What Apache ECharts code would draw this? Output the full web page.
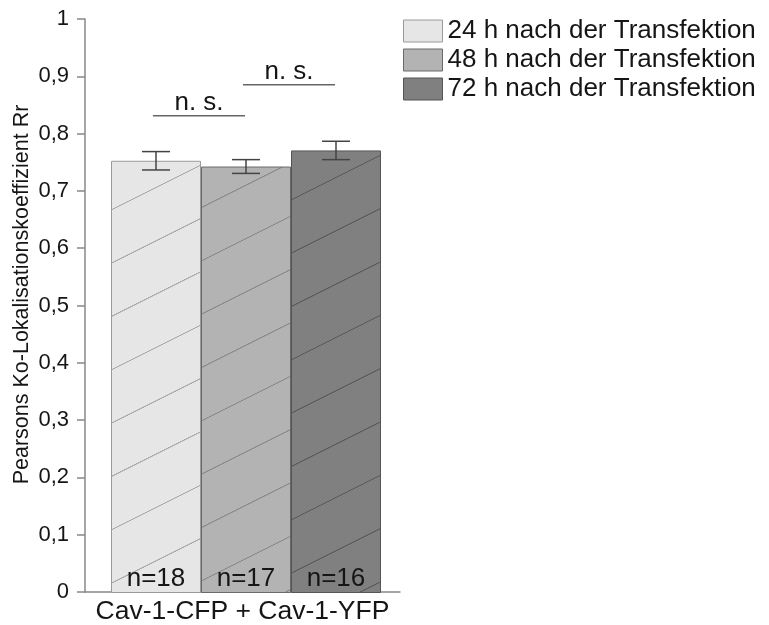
<!DOCTYPE html>
<html>
<head>
<meta charset="utf-8">
<script src="https://cdn.jsdelivr.net/npm/echarts@6/dist/echarts.min.js"></script>
<style>html,body{margin:0;padding:0;background:#fff}#c{width:769px;height:625px}</style>
</head>
<body>
<div id="c"></div>
<script>
// ---- data ----
const CATEGORIES = ['Cav-1-CFP + Cav-1-YFP'];
const SERIES_NAMES = ['24 h nach der Transfektion', '48 h nach der Transfektion', '72 h nach der Transfektion'];
const MEANS = [0.753, 0.743, 0.771];
const ERRORS = [0.016, 0.012, 0.016];
const N_VALUES = [18, 17, 16];
const SIG_PAIRS = [[0, 1], [1, 2]];
const SIG_LEVELS = [0.8316, 0.8856];
const SIG_LABELS = ['n. s.', 'n. s.'];
const Y_TICKS = [0, 0.1, 0.2, 0.3, 0.4, 0.5, 0.6, 0.7, 0.8, 0.9, 1];

// ---- styles ----
const FONT = 'Liberation Sans, Arial, sans-serif';
const TXT = '#151515';
const FILLS = ['#e6e6e6', '#b3b3b3', '#808080'];
const BORDERS = ['#9a9a9a', '#6a6a6a', '#555555'];
const HATCH = ['#a9a9a9', '#8a8a8a', '#5c5c5c'];
const HATCH_YOFF = [2, -0.3, 45.3];
const BAR_W = 90;

function hatch(bg, line, yOff) {
  const s = 3;
  const c = document.createElement('canvas');
  c.width = 90 * s; c.height = 160;
  const g = c.getContext('2d');
  g.fillStyle = bg; g.fillRect(0, 0, c.width, c.height);
  g.strokeStyle = line; g.lineWidth = 1.1 * s;
  g.beginPath(); g.moveTo(0, 48 * s); g.lineTo(90 * s, 3 * s); g.stroke();
  return { image: c, repeat: 'repeat', x: 21, y: yOff, scaleX: 1 / s, scaleY: 1 / s };
}

const chart = echarts.init(document.getElementById('c'), null, { renderer: 'canvas' });

const barSeries = SERIES_NAMES.map((name, i) => ({
  name, type: 'bar', xAxisIndex: 1, yAxisIndex: 1,
  barWidth: BAR_W, barGap: '0%',
  data: [MEANS[i]],
  itemStyle: { color: hatch(FILLS[i], HATCH[i], HATCH_YOFF[i]), borderColor: BORDERS[i], borderWidth: 1 },
  label: { show: true, position: 'insideBottom', distance: 1, formatter: 'n=' + N_VALUES[i],
           fontFamily: FONT, fontSize: 26, color: TXT },
  emphasis: { disabled: true }
}));

const errSeries = {
  type: 'custom', xAxisIndex: 1, yAxisIndex: 1, z: 5, silent: true,
  data: MEANS.map((m, i) => [0, m, ERRORS[i], i]),
  renderItem(params, api) {
    const c = api.coord([api.value(0), api.value(1)]);
    const x = c[0] + (api.value(3) - 1) * BAR_W;
    const yt = api.coord([0, api.value(1) + api.value(2)])[1];
    const yb = api.coord([0, api.value(1) - api.value(2)])[1];
    const st = { stroke: '#444', lineWidth: 1.5 };
    return { type: 'group', children: [
      { type: 'line', shape: { x1: x, y1: yt, x2: x, y2: yb }, style: st },
      { type: 'line', shape: { x1: x - 14, y1: yt, x2: x + 14, y2: yt }, style: st },
      { type: 'line', shape: { x1: x - 14, y1: yb, x2: x + 14, y2: yb }, style: st }
    ]};
  }
};

const sigSeries = {
  type: 'custom', xAxisIndex: 1, yAxisIndex: 1, z: 5, silent: true,
  data: SIG_PAIRS.map((p, i) => [0, SIG_LEVELS[i], p[0], p[1], i]),
  renderItem(params, api) {
    const c = api.coord([api.value(0), api.value(1)]);
    const x1 = c[0] + (api.value(2) - 1) * BAR_W - 3;
    const x2 = c[0] + (api.value(3) - 1) * BAR_W - 1;
    const y = c[1];
    return { type: 'group', children: [
      { type: 'line', shape: { x1, y1: y, x2, y2: y }, style: { stroke: '#666', lineWidth: 1.5 } },
      { type: 'text', x: (x1 + x2) / 2, y: y - 13,
        style: { text: SIG_LABELS[api.value(4)], fontFamily: FONT, fontSize: 26, fill: TXT,
                 align: 'center', verticalAlign: 'middle' } }
    ]};
  }
};

chart.setOption({
  animation: false,
  backgroundColor: '#fff',
  legend: {
    orient: 'vertical', left: 403, top: 18, padding: 0,
    itemWidth: 39, itemHeight: 22, itemGap: 3, itemTextGap: 10,
    icon: 'rect', selectedMode: false,
    textStyle: { fontFamily: FONT, fontSize: 26, color: TXT },
    data: SERIES_NAMES.map((n, i) => ({ name: n, itemStyle: { color: FILLS[i], borderColor: BORDERS[i], borderWidth: 1 } }))
  },
  grid: [
    { left: 85, top: 19, width: 315, bottom: 32 },
    { left: 85, top: 19, width: 322, bottom: 32 }
  ],
  xAxis: [
    { type: 'category', gridIndex: 0, data: CATEGORIES,
      axisLine: { lineStyle: { color: '#888', width: 1.5 } }, axisTick: { show: false },
      axisLabel: { fontFamily: FONT, fontSize: 26.5, color: TXT, margin: 6 } },
    { type: 'category', gridIndex: 1, data: CATEGORIES, show: false }
  ],
  yAxis: [
    { type: 'value', gridIndex: 0, min: Y_TICKS[0], max: Y_TICKS[Y_TICKS.length - 1], interval: 0.1,
      name: 'Pearsons Ko-Lokalisationskoeffizient Rr', nameLocation: 'middle', nameGap: 52,
      nameTextStyle: { fontFamily: FONT, fontSize: 21.5, color: TXT, padding: [0, 0, 0, 22] },
      axisLine: { show: true, lineStyle: { color: '#888', width: 1.5 } },
      axisTick: { show: true, length: 8, lineStyle: { color: '#888', width: 1.5 } },
      splitLine: { show: false },
      axisLabel: { fontFamily: FONT, fontSize: 22, color: TXT, margin: 16,
        formatter: v => String(+v.toFixed(1)).replace('.', ',') } },
    { type: 'value', gridIndex: 1, min: 0, max: 1, show: false, splitLine: { show: false } }
  ],
  series: [...barSeries, errSeries, sigSeries]
});
</script>
</body>
</html>
